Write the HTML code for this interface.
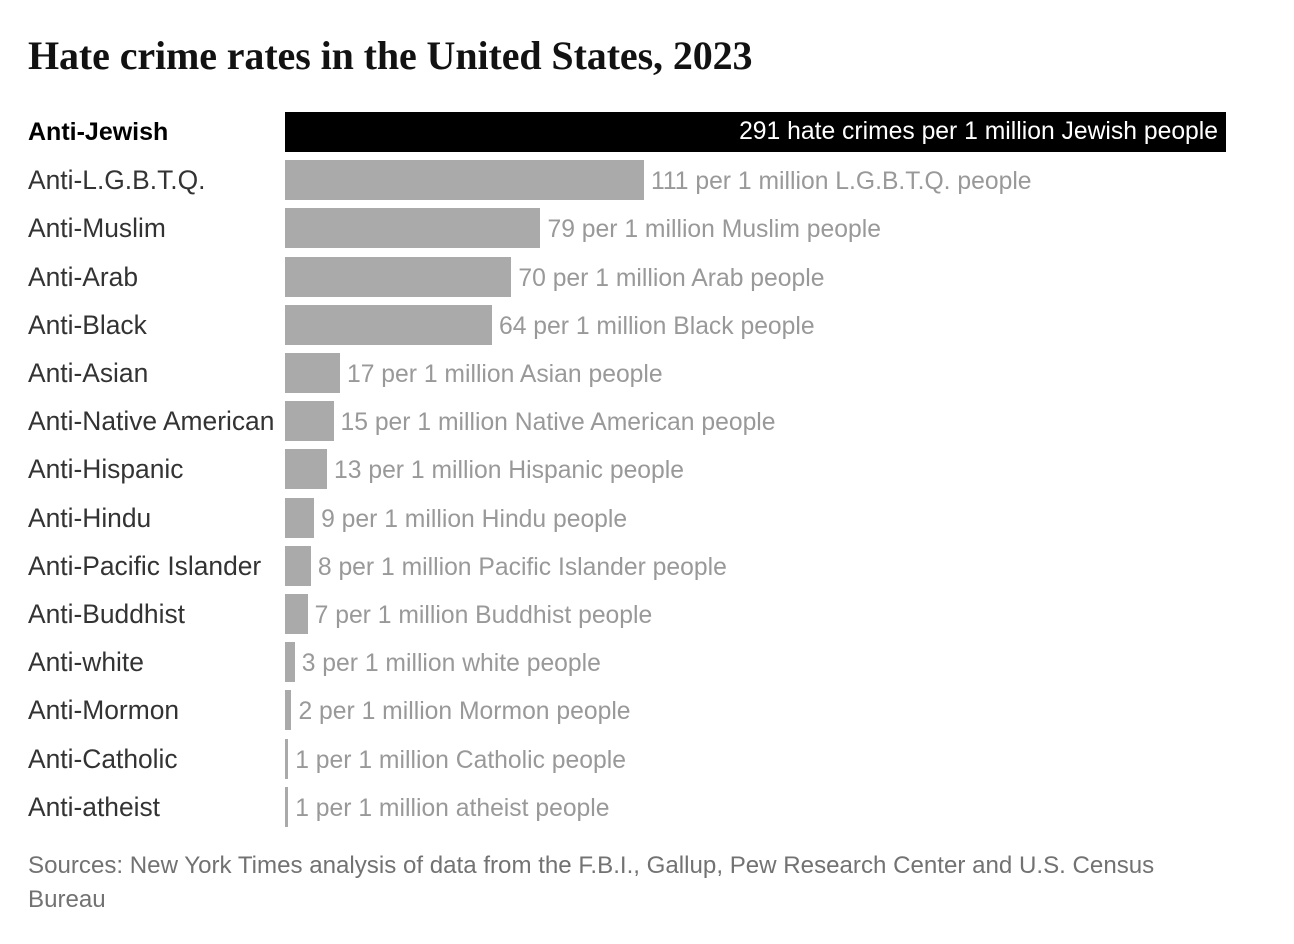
<!DOCTYPE html>
<html><head><meta charset="utf-8"><style>
body{margin:0;width:1294px;height:944px;background:#fff;position:relative;overflow:hidden;font-family:"Liberation Sans",Arial,sans-serif;}
h1{position:absolute;left:28px;top:32px;margin:0;font:bold 40px "Liberation Serif",serif;color:#121212;letter-spacing:-0.1px;white-space:nowrap;}
.row{position:absolute;left:0;height:40px;width:1294px;}
.lab{position:absolute;left:28px;top:0;line-height:40px;font-size:26.4px;color:#333;white-space:nowrap;}
.bar{position:absolute;left:285px;top:0;height:40px;background:#aaa;}
.val{position:absolute;top:2px;line-height:40px;font-size:24.7px;color:#999;white-space:nowrap;}
.src{position:absolute;left:28px;top:849px;font-size:24.1px;line-height:34px;color:#727272;width:1180px;}
</style></head><body>
<h1>Hate crime rates in the United States, 2023</h1>
<div id="c"></div>
<div class="src">Sources: New York Times analysis of data from the F.B.I., Gallup, Pew Research Center and U.S. Census<br>Bureau</div>
<script>
var d=[["Anti-Jewish",291,""],["Anti-L.G.B.T.Q.",111,"L.G.B.T.Q."],["Anti-Muslim",79,"Muslim"],["Anti-Arab",70,"Arab"],["Anti-Black",64,"Black"],["Anti-Asian",17,"Asian"],["Anti-Native American",15,"Native American"],["Anti-Hispanic",13,"Hispanic"],["Anti-Hindu",9,"Hindu"],["Anti-Pacific Islander",8,"Pacific Islander"],["Anti-Buddhist",7,"Buddhist"],["Anti-white",3,"white"],["Anti-Mormon",2,"Mormon"],["Anti-Catholic",1,"Catholic"],["Anti-atheist",1,"atheist"]];
var h="";
d.forEach(function(r,i){
var top=112+i*48.2, w=Math.max(3,r[1]*3.234);
h+='<div class="row" style="top:'+top+'px">';
if(i==0){
h+='<div class="lab" style="font-weight:bold;color:#000;font-size:25px">'+r[0]+'</div><div class="bar" style="width:'+w+'px;background:#000"></div><div class="val" style="right:76px;top:0;color:#fff">291 hate crimes per 1 million Jewish people</div>';
}else{
h+='<div class="lab">'+r[0]+'</div><div class="bar" style="width:'+w+'px"></div><div class="val" style="left:'+(285+w+7)+'px">'+r[1]+' per 1 million '+r[2]+' people</div>';
}
h+='</div>';
});
document.getElementById("c").innerHTML=h;
</script>
</body></html>
